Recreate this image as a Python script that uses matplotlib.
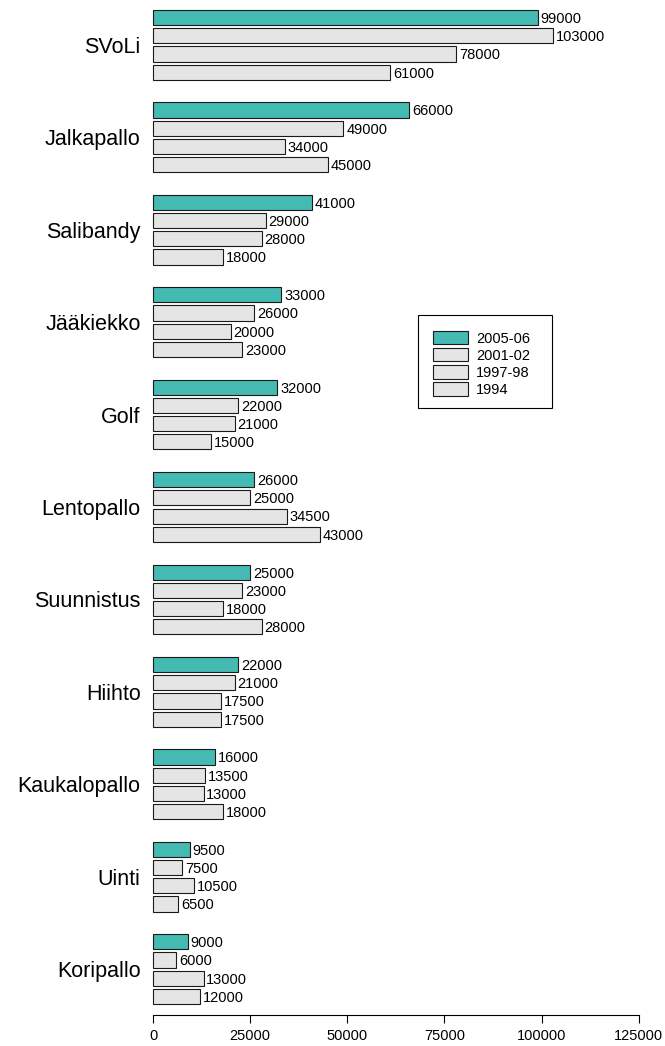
import numpy as np
import matplotlib
matplotlib.use('Agg')
import matplotlib.pyplot as plt
from matplotlib.patches import Patch, Rectangle

plt.rcParams['font.family'] = ['Liberation Sans', 'DejaVu Sans']

lajit = ['SVoLi', 'Jalkapallo', 'Salibandy', 'Jääkiekko', 'Golf', 'Lentopallo',
         'Suunnistus', 'Hiihto', 'Kaukalopallo', 'Uinti', 'Koripallo']
vuodet = ['2005-06', '2001-02', '1997-98', '1994']
v2005 = [99000, 66000, 41000, 33000, 32000, 26000, 25000, 22000, 16000, 9500, 9000]
v2001 = [103000, 49000, 29000, 26000, 22000, 25000, 23000, 21000, 13500, 7500, 6000]
v1997 = [78000, 34000, 28000, 20000, 21000, 34500, 18000, 17500, 13000, 10500, 13000]
v1994 = [61000, 45000, 18000, 23000, 15000, 43000, 28000, 17500, 18000, 6500, 12000]
sarjat = [v2005, v2001, v1997, v1994]
varit = ['#45BAB3', '#E5E5E5', '#E5E5E5', '#E5E5E5']

# bar layout in bar-width units (like barplot beside=TRUE, space=c(0.2, 1.5))
vali = 0.2
ryhmavali = 1.5
ryhma = 4 + 3 * vali + ryhmavali

W, H = 665, 1046
fig = plt.figure(figsize=(W / 100, H / 100), dpi=100)
x0, x1 = 153, 153 + 125000 * 0.003886
y0, y1 = 10, 1004
ax = fig.add_axes([x0 / W, 1 - y1 / H, (x1 - x0) / W, (y1 - y0) / H])

for j, (arvot, vari) in enumerate(zip(sarjat, varit)):
    y = np.arange(len(lajit)) * ryhma + j * (1 + vali) + 0.5
    ax.barh(y, arvot, height=1, color=vari, edgecolor='#1a1a1a', linewidth=0.8,
            clip_on=False)
    for yy, v in zip(y, arvot):
        ax.annotate(str(v), (v, yy), xytext=(2.0, -1.0), textcoords='offset points',
                    ha='left', va='center', fontsize=10.5)

keskit = np.arange(len(lajit)) * ryhma + (4 + 3 * vali) / 2
ax.set_yticks(keskit)
ax.set_yticklabels(lajit, fontsize=15.5)
ax.tick_params(axis='y', length=0, pad=9)

ax.set_ylim(len(lajit) * ryhma - ryhmavali, 0)
ax.set_xlim(0, 125000)
ax.set_xticks([0, 25000, 50000, 75000, 100000, 125000])
ax.set_xticklabels(['0', '25000', '50000', '75000', '100000', '125000'])
ax.tick_params(axis='x', length=5.8, width=0.8, pad=4.5, labelsize=10.5)

for s in ['top', 'right', 'left']:
    ax.spines[s].set_visible(False)
ax.spines['bottom'].set_position(('outward', 8))
ax.spines['bottom'].set_linewidth(0.8)

# legend: entries without frame, box drawn separately
kahvat = [Patch(facecolor=c, edgecolor='#1a1a1a', linewidth=0.8) for c in varit]
fig.legend(kahvat, vuodet, loc='upper left',
           bbox_to_anchor=(433 / W, 1 - 331 / H), borderaxespad=0,
           fontsize=10.5, handlelength=2.4, handleheight=1.03,
           handletextpad=0.55, labelspacing=0.17, borderpad=0,
           frameon=False)
fig.add_artist(Rectangle((418 / W, 1 - 408 / H), (552 - 418) / W, (408 - 315) / H,
                         transform=fig.transFigure, fill=False,
                         edgecolor='black', linewidth=0.8))

fig.savefig('out.png', dpi=100)
